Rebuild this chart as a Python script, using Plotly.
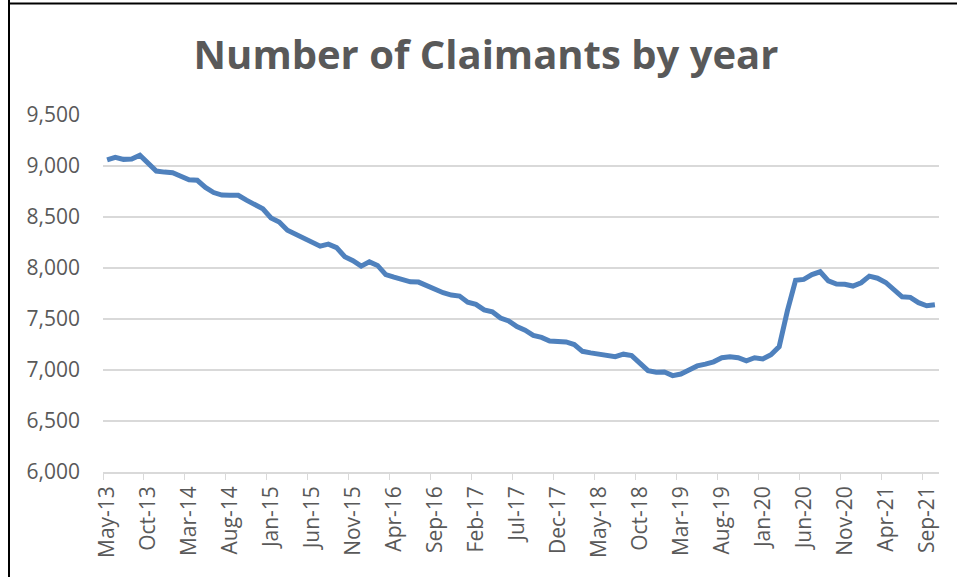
import plotly.graph_objects as go

months = ["Jan", "Feb", "Mar", "Apr", "May", "Jun", "Jul", "Aug", "Sep", "Oct", "Nov", "Dec"]
# Monthly categories May-13 .. Oct-21
categories = []
for k in range(102):
    m = (4 + k) % 12
    yr = 13 + (4 + k) // 12
    categories.append(f"{months[m]}-{yr:02d}")

claimants = [
    9060, 9085, 9065, 9068, 9105, 9030, 8950, 8940, 8935, 8900,
    8865, 8860, 8790, 8740, 8715, 8713, 8713, 8665, 8625, 8580,
    8490, 8450, 8370, 8330, 8283, 8256, 8214, 8234, 8200, 8110,
    8072, 8018, 8060, 8025, 7935, 7910, 7882, 7864, 7862, 7826,
    7784, 7758, 7735, 7725, 7665, 7644, 7590, 7571, 7510, 7481,
    7425, 7390, 7340, 7320, 7285, 7280, 7275, 7250, 7183, 7168,
    7152, 7140, 7130, 7155, 7141, 7067, 6994, 6978, 6981, 6945,
    6960, 7000, 7040, 7057, 7080, 7120, 7130, 7121, 7090, 7120,
    7108, 7150, 7229, 7580, 7880, 7888, 7935, 7963, 7873, 7842,
    7840, 7823, 7855, 7920, 7900, 7858, 7795, 7718, 7712, 7660,
    7630, 7640,
]

title_text = "Number of Claimants by year"

W, H = 957, 577
L, R, T, B = 103, 18, 115, 105
pw, ph = W - L - R, H - T - B

fig = go.Figure()
fig.add_trace(go.Scatter(
    x=categories, y=claimants, mode="lines",
    line=dict(color="#4F81BD", width=5),
    hoverinfo="x+y", showlegend=False,
))

grey = "#595959"
fig.update_layout(
    width=W, height=H,
    margin=dict(l=L, r=R, t=T, b=B),
    paper_bgcolor="white", plot_bgcolor="white",
    title=dict(text=f"<b>{title_text}</b>", x=(486 - L) / pw, xref="paper",
               xanchor="center", y=1 - 55 / H, yanchor="middle",
               font=dict(family="Open Sans", size=40, color=grey)),
    font=dict(family="Open Sans", color=grey),
)
fig.update_xaxes(
    type="category", range=[-0.5, len(categories) - 0.5],
    tickmode="linear", tick0=0, dtick=5, tickson="boundaries",
    ticks="outside", ticklen=6, tickwidth=1.3, tickcolor="#D9D9D9",
    tickangle=-90, tickfont=dict(family="Open Sans", size=21, color=grey),
    showline=True, linecolor="#D9D9D9", linewidth=1.5,
    showgrid=False, zeroline=False, ticklabelstandoff=4,
)
fig.update_yaxes(
    range=[6000, 9500], tickmode="linear", tick0=6000, dtick=500,
    tickformat=",", ticks="", ticklabelstandoff=22,
    tickfont=dict(family="Open Sans", size=21, color=grey),
    showgrid=True, gridcolor="#D9D9D9", gridwidth=1.5,
    zeroline=False, showline=False,
)

# frame lines (left and top edges of the pasted chart)
fig.add_shape(type="line", xref="paper", yref="paper",
              x0=(9 - L) / pw, x1=(9 - L) / pw, y0=-B / ph, y1=(H - B) / ph,
              line=dict(color="black", width=2))
fig.add_shape(type="line", xref="paper", yref="paper",
              x0=(8 - L) / pw, x1=(W - L) / pw, y0=(H - B - 3.5) / ph, y1=(H - B - 3.5) / ph,
              line=dict(color="black", width=2))

fig.write_html("out.html")
